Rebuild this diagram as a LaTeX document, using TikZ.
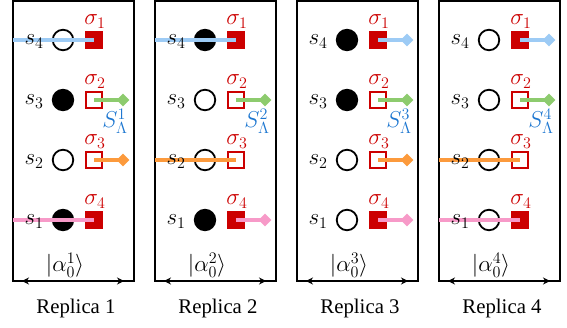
\RequirePackage{fix-cm}
\documentclass[tikz,border=0pt]{standalone}
\usepackage{fontspec}
\setmainfont{Liberation Serif}
\usetikzlibrary{shapes.geometric,arrows.meta}
\definecolor{sqred}{HTML}{CC0000}
\definecolor{lblue}{HTML}{9DCBF5}
\definecolor{lgreen}{HTML}{8DCB6E}
\definecolor{lorange}{HTML}{FC9A3C}
\definecolor{lpink}{HTML}{F79AC8}
\definecolor{sblue}{HTML}{1C76D0}
\tikzset{
  panelbox/.style={draw=black, line width=1.1pt},
  site/.style={circle, draw=black, line width=1.8pt, minimum size=20.5pt, inner sep=0pt},
  occ/.style={site, fill=black},
  emp/.style={site, fill=white},
  spin/.style={rectangle, draw=sqred, line width=1.6pt, minimum size=16.5pt, inner sep=0pt},
  sfull/.style={spin, fill=sqred},
  sopen/.style={spin, fill=white},
  conn/.style={line width=4pt},
  tipd/.style={diamond, minimum size=13pt, inner sep=0pt},
  lab/.style={inner sep=0pt, anchor=base, font=\fontsize{23}{27}\selectfont},
  txtlab/.style={inner sep=0pt, anchor=base, font=\fontsize{20.8}{24}\selectfont},
  siglab/.style={lab, text=sqred},
  slab/.style={lab, text=sblue},
  spanarrow/.style={<->, >={Stealth[length=7pt,width=7pt]}, line width=1.1pt}
}
\newcommand\drawpanel[3]{%
  \draw[panelbox] (#2,1) rectangle (#2+121,281);
  \foreach \r/\st/\d/\col/\sq in {#3}{
    \pgfmathsetmacro\yy{40+60*(4-\r)}
    \pgfmathtruncatemacro\si{5-\r}
    \node[\st] (c-#1-\r) at (#2+50,\yy) {};
    \node[\sq] (q-#1-\r) at (#2+81,\yy) {};
    \ifnum\d=0
      \coordinate (e-#1-\r) at (#2,\yy);
      \draw[conn,\col] (e-#1-\r) -- (q-#1-\r.center);
    \else
      \node[tipd,fill=\col] (d-#1-\r) at (#2+110,\yy) {};
      \draw[conn,\col] (q-#1-\r.center) -- (d-#1-\r.center);
    \fi
    \node[lab] (s-#1-\r) at (#2+21,\yy+5) {$s_{\r}$};
    \node[siglab] (g-#1-\r) at (#2+82,\yy-15) {$\sigma_{\si}$};
  }
  \node[slab] (S-#1) at (#2+102,127.5) {$S_\Lambda^{#1}$};
  \node[lab] (k-#1) at (#2+52,272) {$|\alpha_0^{#1}\rangle$};
  \coordinate (al-#1) at (#2+9,281);
  \coordinate (ar-#1) at (#2+111,281);
  \draw[spanarrow] (al-#1) -- (ar-#1);
  \node[txtlab] (R-#1) at (#2+63,313) {Replica #1};
}
\begin{document}
\begin{tikzpicture}[x=1pt,y=-1pt]
\useasboundingbox (0,0) rectangle (567,328);
\drawpanel{1}{13}{4/emp/0/lblue/sfull, 3/occ/1/lgreen/sopen, 2/emp/1/lorange/sopen, 1/occ/0/lpink/sfull}
\drawpanel{2}{155}{4/occ/0/lblue/sfull, 3/emp/1/lgreen/sopen, 2/emp/0/lorange/sopen, 1/occ/1/lpink/sfull}
\drawpanel{3}{297}{4/occ/1/lblue/sfull, 3/occ/1/lgreen/sopen, 2/emp/1/lorange/sopen, 1/emp/1/lpink/sfull}
\drawpanel{4}{439}{4/emp/1/lblue/sfull, 3/emp/1/lgreen/sopen, 2/emp/0/lorange/sopen, 1/emp/0/lpink/sfull}
\end{tikzpicture}
\end{document}
